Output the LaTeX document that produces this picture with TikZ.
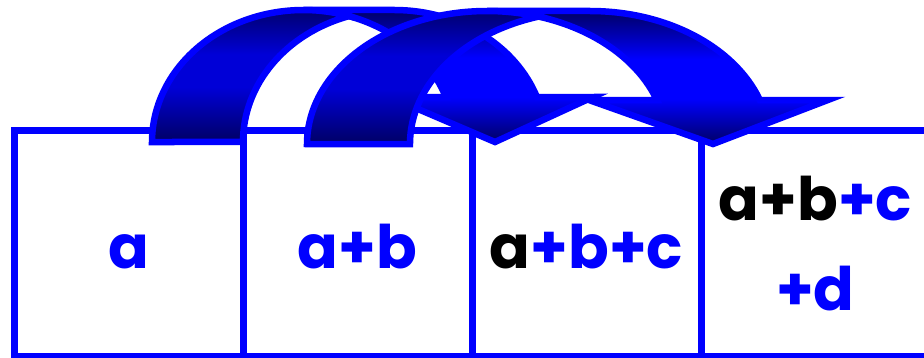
\documentclass[tikz,border=0pt]{standalone}
\usepackage{fontspec}
\setmainfont{Poppins}
\usetikzlibrary{positioning}
\definecolor{sumblue}{RGB}{0,0,255}
\definecolor{sumnavy}{RGB}{0,0,100}
\definecolor{sumdeep}{RGB}{0,0,215}
\pgfdeclareverticalshading{frontshade}{100bp}{color(0bp)=(sumnavy); color(25bp)=(sumnavy); color(42bp)=(sumblue); color(57bp)=(sumblue); color(75bp)=(sumnavy); color(100bp)=(sumnavy)}
\pgfdeclareverticalshading{backshade}{100bp}{color(0bp)=(sumnavy); color(25bp)=(sumnavy); color(45bp)=(sumdeep); color(57bp)=(sumdeep); color(75bp)=(sumnavy); color(100bp)=(sumnavy)}
\tikzset{
  cell/.style={draw=sumblue, line width=7pt, minimum width=229pt, minimum height=225.5pt, outer sep=0pt, inner sep=0pt},
  val/.style={font=\fontsize{60}{72}\selectfont\bfseries, text=sumblue, inner sep=0pt, anchor=base},
  frontband/.style={draw=sumblue, line width=6.5pt, line join=miter, shading=frontshade},
  backband/.style={draw=sumblue, line width=6.5pt, line join=miter, shading=backshade},
}
\begin{document}
\begin{tikzpicture}[x=1pt, y=1pt]
        \useasboundingbox (0,0) rectangle (924,357);

        % Cells of the running sum
        \node[cell] (c1) at (128.5,113.75) {};
        \node[cell, right=0pt of c1] (c2) {};
        \node[cell, right=0pt of c2] (c3) {};
        \node[cell, right=0pt of c3] (c4) {};

        % Partial sums
        \node[val] (s1) at ([yshift=-24.75pt]c1.center) {a};
        \node[val] (s2) at ([yshift=-24.75pt]c2.center) {a+b};
        \node[val] (s3) at ([yshift=-24.75pt]c3.center) {\textcolor{black}{a}+b+c};
        \node[val] (s4a) at ([yshift=23.25pt]c4.center) {\textcolor{black}{a+b}+c};
        \node[val] (s4b) at ([yshift=-66.75pt]c4.center) {+d};

        % Curved arrow from cell 1 to cell 3
        \shadedraw[frontband] (495,215) -- (389.9,260) -- (445.9,260)
            arc[start angle=19.93, end angle=90, x radius=151.5, y radius=132]
            -- (394.5,347)
            arc[start angle=90, end angle=19.93, x radius=151.5, y radius=132]
            -- (592.9,260) -- cycle;
        \shadedraw[backband] (349,340.9)
            arc[start angle=107.48, end angle=180, x radius=151.5, y radius=132]
            -- (152,215)
            arc[start angle=180, end angle=72.52, x radius=151.5, y radius=132]
            -- cycle;

        % Curved arrow from cell 2 to cell 4
        \shadedraw[frontband] (713,213) -- (588.9,257) -- (656.9,257)
            arc[start angle=19.32, end angle=90, x radius=180, y radius=133]
            -- (590,346)
            arc[start angle=90, end angle=19.32, x radius=180, y radius=133]
            -- (827.9,257) -- cycle;
        \shadedraw[backband] (538.5,340.4)
            arc[start angle=106.62, end angle=180, x radius=180, y radius=133]
            -- (307,213)
            arc[start angle=180, end angle=73.38, x radius=180, y radius=133]
            -- cycle;
\end{tikzpicture}
\end{document}
